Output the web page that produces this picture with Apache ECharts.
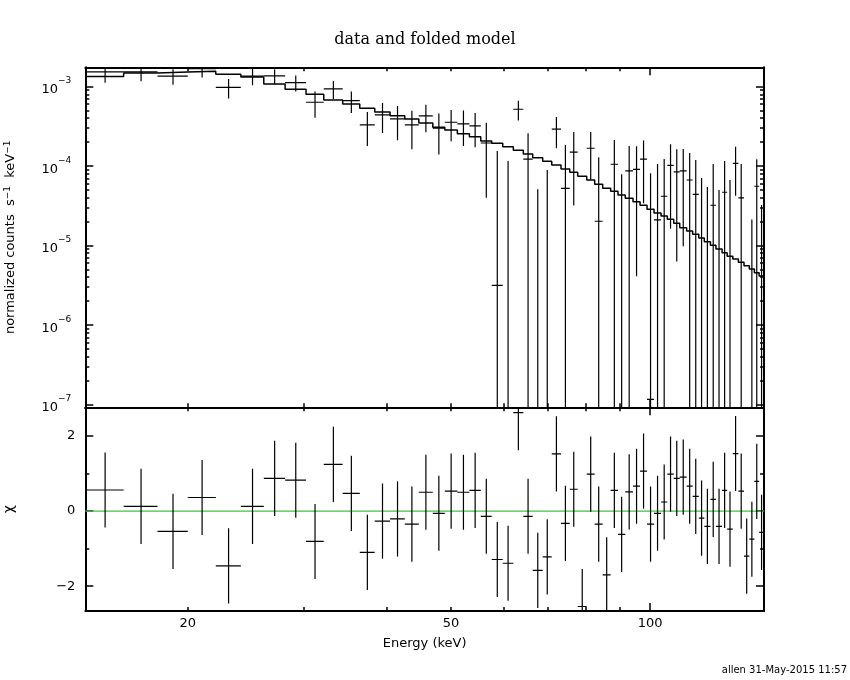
<!DOCTYPE html>
<html>
<head>
<meta charset="utf-8">
<title>data and folded model</title>
<script src="https://cdn.jsdelivr.net/npm/echarts@6/dist/echarts.min.js"></script>
<style>
  html, body { margin: 0; padding: 0; background: #fff; }
  #chart { width: 850px; height: 680px; }
</style>
</head>
<body>
<div id="chart"></div>
<script>
// energy bin edges (keV), 59 bins
var binEdges = [14.0, 16.0, 18.0, 20.0, 22.05, 24.06, 26.06, 28.07, 30.19, 32.11,
  34.30, 36.40, 38.35, 40.45, 42.58, 44.71, 46.94, 48.94, 51.13, 53.32,
  55.47, 57.63, 59.88, 62.13, 64.33, 66.47, 68.82, 71.02, 73.35, 75.61,
  77.74, 80.21, 82.47, 84.80, 87.19, 89.44, 91.74, 94.25, 96.58, 98.96,
  101.4, 103.9, 106.2, 108.6, 110.9, 113.6, 116.0, 118.5, 120.8, 123.4,
  125.8, 128.5, 130.8, 133.4, 136.0, 138.7, 141.3, 143.8, 146.2, 148.7];

// normalized counts s^-1 keV^-1 (data)
var rate = [1.53e-3, 1.53e-3, 1.352e-3, 1.685e-3, 0.977e-3, 1.352e-3, 1.364e-3, 1.123e-3, 0.636e-3, 0.936e-3,
  0.666e-3, 0.329e-3, 0.440e-3, 0.392e-3, 0.329e-3, 0.428e-3, 0.300e-3, 0.356e-3, 0.339e-3, 0.320e-3,
  0.195e-3, 0.00315e-3, -0.035e-3, 0.519e-3, 0.122e-3, -0.080e-3, -0.029e-3, 0.291e-3, 0.0525e-3, 0.150e-3,
  -0.218e-3, 0.1676e-3, 0.0202e-3, -0.1175e-3, 0.1054e-3, -0.0146e-3, 0.0868e-3, 0.0911e-3, 0.122e-3, 0.000116e-3,
  0.021e-3, 0.0417e-3, 0.1023e-3, 0.0843e-3, 0.0868e-3, 0.0668e-3, 0.0441e-3, -0.0013e-3, -0.019e-3, 0.0321e-3,
  -0.0194e-3, 0.0468e-3, -0.003e-3, 0.1084e-3, 0.0397e-3, -0.0724e-3, -0.0438e-3, 0.0557e-3, -0.0333e-3];

// 1 sigma errors on the data
var rateErr = [0.41e-3, 0.36e-3, 0.30e-3, 0.387e-3, 0.27e-3, 0.31e-3, 0.29e-3, 0.255e-3, 0.23e-3, 0.24e-3,
  0.20e-3, 0.15e-3, 0.18e-3, 0.18e-3, 0.166e-3, 0.162e-3, 0.16e-3, 0.15e-3, 0.16e-3, 0.147e-3,
  0.155e-3, 0.152e-3, 0.151e-3, 0.144e-3, 0.137e-3, 0.131e-3, 0.118e-3, 0.124e-3, 0.132e-3, 0.118e-3,
  0.115e-3, 0.100e-3, 0.109e-3, 0.100e-3, 0.108e-3, 0.0934e-3, 0.092e-3, 0.087e-3, 0.088e-3, 0.081e-3,
  0.085e-3, 0.081e-3, 0.086e-3, 0.078e-3, 0.077e-3, 0.0794e-3, 0.0753e-3, 0.072e-3, 0.0736e-3, 0.0742e-3,
  0.0694e-3, 0.069e-3, 0.070e-3, 0.066e-3, 0.0666e-3, 0.065e-3, 0.065e-3, 0.066e-3, 0.0657e-3];

// folded model
var model = [1.336e-3, 1.487e-3, 1.531e-3, 1.563e-3, 1.433e-3, 1.325e-3, 1.081e-3, 0.927e-3, 0.802e-3, 0.680e-3,
  0.605e-3, 0.535e-3, 0.480e-3, 0.431e-3, 0.390e-3, 0.349e-3, 0.308e-3, 0.285e-3, 0.256e-3, 0.234e-3,
  0.207e-3, 0.194e-3, 0.175e-3, 0.158e-3, 0.142e-3, 0.1276e-3, 0.1153e-3, 0.1032e-3, 0.0919e-3, 0.0835e-3,
  0.0744e-3, 0.0668e-3, 0.059e-3, 0.0525e-3, 0.0482e-3, 0.0433e-3, 0.0393e-3, 0.0356e-3, 0.0321e-3, 0.0286e-3,
  0.0257e-3, 0.0235e-3, 0.0214e-3, 0.019e-3, 0.01676e-3, 0.01524e-3, 0.01384e-3, 0.01243e-3, 0.01116e-3, 0.01006e-3,
  0.00904e-3, 0.00811e-3, 0.00731e-3, 0.00676e-3, 0.00614e-3, 0.00557e-3, 0.00506e-3, 0.00454e-3, 0.00413e-3];

// residuals (chi)
var chi = [0.56, 0.125, -0.54, 0.36, -1.46, 0.125, 0.87, 0.82, -0.81, 1.24,
  0.47, -1.10, -0.27, -0.21, -0.35, 0.50, -0.06, 0.53, 0.50, 0.55,
  -0.14, -1.29, -1.39, 2.62, -0.14, -1.58, -1.22, 1.52, -0.33, 0.58,
  -2.54, 0.98, -0.35, -1.70, 0.55, -0.62, 0.51, 0.66, 1.06, -0.35,
  -0.06, 0.24, 0.98, 0.87, 0.90, 0.66, 0.39, -0.19, -0.41, 0.31,
  -0.41, 0.55, -0.48, 1.53, 0.53, -1.20, -0.75, 0.79, -0.57];

// axis ranges and ticks
var XMIN = 14.0, XMAX = 148.7;
var YMIN = 9.2e-8, YMAX = 1.75e-3;
var CHI_MIN = -2.66, CHI_MAX = 2.76;
var xMinorTicks = [20, 30, 40, 50, 60, 70, 80, 90];
var xMajorTicks = [100];
var xTickLabels = [20, 50, 100];
var yDecades = [1e-7, 1e-6, 1e-5, 1e-4, 1e-3];
var yMinorTicks = [];
yDecades.slice(0, 4).forEach(function (d) {
  for (var k = 2; k <= 9; k++) yMinorTicks.push(k * d);
});
var chiMajor = [-2, 0, 2];
var chiMinor = [-1, 1];

var FONT = 'DejaVu Sans';
var INK = '#000';

function xAxisSet(grid, labelled) {
  var list = [];
  ['bottom', 'top'].forEach(function (pos) {
    [[xMinorTicks, 4, true], [xMajorTicks, 8, false]].forEach(function (t) {
      var ax = {
        gridIndex: grid, type: 'log', logBase: 10, min: XMIN, max: XMAX, position: pos,
        axisLine: { show: t[2], onZero: false, lineStyle: { color: INK, width: 2 } },
        axisTick: { show: true, inside: true, length: t[1], customValues: t[0], lineStyle: { color: INK, width: 1.5 } },
        axisLabel: { show: false },
        splitLine: { show: false }
      };
      if (labelled && pos === 'bottom' && t[2]) {
        ax.axisLabel = {
          show: true, customValues: xTickLabels, margin: 6,
          color: INK, fontFamily: FONT, fontSize: 13,
          formatter: function (v) { return String(Math.round(v)); }
        };
        ax.name = 'Energy (keV)';
        ax.nameLocation = 'middle';
        ax.nameGap = 26;
        ax.nameTextStyle = { color: INK, fontFamily: FONT, fontSize: 13 };
      }
      list.push(ax);
    });
  });
  return list;
}

function supText(e) {
  return e < 0 ? '\u2212' + (-e) : String(e);
}

function yAxisSet(grid) {
  var list = [];
  var isLog = grid === 0;
  ['left', 'right'].forEach(function (pos) {
    var sets = isLog ? [[yMinorTicks, 4, true], [yDecades, 8, false]] : [[chiMinor, 4, true], [chiMajor, 8, false]];
    sets.forEach(function (t) {
      var ax = {
        gridIndex: grid, position: pos,
        type: isLog ? 'log' : 'value',
        min: isLog ? YMIN : CHI_MIN, max: isLog ? YMAX : CHI_MAX,
        axisLine: { show: t[2], onZero: false, lineStyle: { color: INK, width: 2 } },
        axisTick: { show: true, inside: true, length: t[1], customValues: t[0], lineStyle: { color: INK, width: 1.5 } },
        axisLabel: { show: false },
        splitLine: { show: false }
      };
      if (isLog) ax.logBase = 10;
      if (pos === 'left' && !t[2]) {
        if (isLog) {
          ax.axisLabel = {
            show: true, customValues: yDecades, margin: 14, color: INK,
            formatter: function (v) {
              var e = Math.round(Math.log(v) / Math.LN10);
              return '{b|10}{e|' + supText(e) + '}';
            },
            rich: {
              b: { fontFamily: FONT, fontSize: 13, color: INK, padding: [7, 0, 0, 0] },
              e: { fontFamily: FONT, fontSize: 9, color: INK, verticalAlign: 'top' }
            }
          };
          ax.name = 'normalized counts  s{s|\u22121}  keV{s|\u22121}';
          ax.nameGap = 67;
          ax.nameTextStyle = {
            color: INK, fontFamily: FONT, fontSize: 13,
            rich: { s: { fontFamily: FONT, fontSize: 9, color: INK, verticalAlign: 'top', padding: [0, 0, 6, 0] } }
          };
        } else {
          ax.axisLabel = {
            show: true, customValues: chiMajor, margin: 10, color: INK,
            fontFamily: FONT, fontSize: 13,
            formatter: function (v) { return v < 0 ? '\u2212' + (-v) : String(v); }
          };
          ax.name = '\u03c7';
          ax.nameGap = 69;
          ax.nameTextStyle = { color: INK, fontFamily: FONT, fontSize: 14 };
        }
        ax.nameLocation = 'middle';
        ax.nameRotate = 90;
      }
      list.push(ax);
    });
  });
  return list;
}

// rows used by the custom series: [lo, hi, value, error, model]
var rateRows = rate.map(function (v, i) {
  return [binEdges[i], binEdges[i + 1], v, rateErr[i], model[i]];
});
var chiRows = chi.map(function (v, i) {
  return [binEdges[i], binEdges[i + 1], v, 1, v];
});
var modelStep = binEdges.map(function (e, i) {
  return [e, model[Math.min(i, model.length - 1)]];
});

function crossRenderer(logY) {
  return function (params, api) {
    var lo = api.value(0), hi = api.value(1), v = api.value(2), e = api.value(3);
    var mid = (lo + hi) / 2;
    var kids = [];
    var style = { stroke: INK, lineWidth: 1.2 };
    var top = v + e, bot = v - e;
    if (!logY || top > 0) {
      if (logY && bot <= 0) bot = YMIN / 10;
      var p1 = api.coord([mid, top]), p2 = api.coord([mid, bot]);
      kids.push({ type: 'line', shape: { x1: p1[0], y1: p1[1], x2: p2[0], y2: p2[1] }, style: style });
    }
    if (!logY || v > 0) {
      var a = api.coord([lo, v]), b = api.coord([hi, v]);
      kids.push({ type: 'line', shape: { x1: a[0], y1: a[1], x2: b[0], y2: b[1] }, style: style });
    }
    return { type: 'group', children: kids };
  };
}

var chart = echarts.init(document.getElementById('chart'));

var option = {
  animation: false,
  backgroundColor: '#fff',
  title: {
    text: 'data and folded model',
    left: 'center', top: 27,
    textStyle: { fontFamily: 'DejaVu Serif', fontSize: 16, fontWeight: 'normal', color: INK }
  },
  grid: [
    { left: 85.3, top: 67.3, width: 678.7, height: 340, outerBoundsMode: 'none' },
    { left: 85.3, top: 407.3, width: 678.7, height: 203.7, outerBoundsMode: 'none' }
  ],
  xAxis: xAxisSet(0, false).concat(xAxisSet(1, true)),
  yAxis: yAxisSet(0).concat(yAxisSet(1)),
  series: [
    {
      name: 'model', type: 'line', step: 'end', xAxisIndex: 0, yAxisIndex: 0,
      data: modelStep, symbol: 'none', clip: true,
      lineStyle: { color: INK, width: 1.5 }, z: 3
    },
    {
      name: 'data', type: 'custom', xAxisIndex: 0, yAxisIndex: 0,
      data: rateRows, encode: { x: [0, 1], y: 4 }, clip: true,
      renderItem: crossRenderer(true), z: 4
    },
    {
      name: 'zero', type: 'line', xAxisIndex: 4, yAxisIndex: 4,
      data: [[XMIN, 0], [XMAX, 0]], symbol: 'none',
      lineStyle: { color: '#33cc33', width: 1.2 }, z: 2
    },
    {
      name: 'residuals', type: 'custom', xAxisIndex: 4, yAxisIndex: 4,
      data: chiRows, encode: { x: [0, 1], y: 2 }, clip: true,
      renderItem: crossRenderer(false), z: 4
    }
  ],
  graphic: [
    {
      type: 'text', right: 3, top: 665,
      style: { text: 'allen 31-May-2015 11:57', fontFamily: FONT, fontSize: 10, fill: INK }
    }
  ]
};

chart.setOption(option);
window.addEventListener('resize', function () {
  chart.resize();
});
</script>
</body>
</html>
